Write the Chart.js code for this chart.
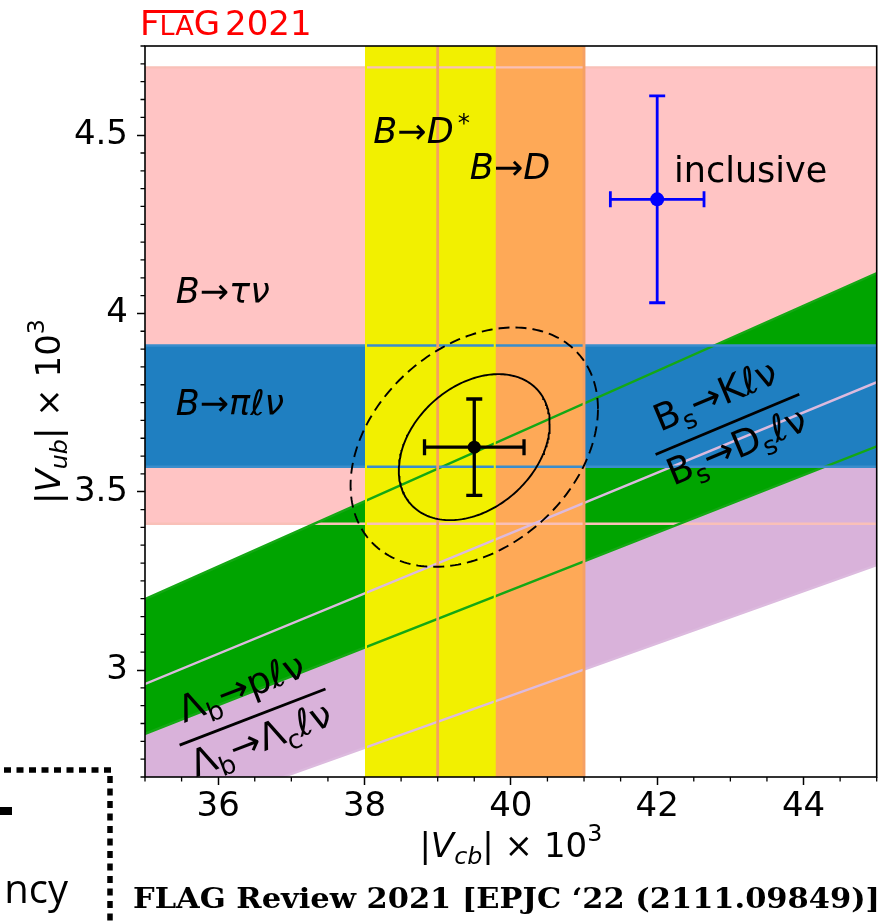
<!DOCTYPE html>
<html>
<head>
<meta charset="utf-8">
<script src="https://cdn.jsdelivr.net/npm/chart.js@4.4.1/dist/chart.umd.min.js"></script>
<style>
  html, body { margin: 0; padding: 0; background: #fff; }
  #wrap { width: 888px; height: 921px; position: relative; }
</style>
</head>
<body>
<div id="wrap"><canvas id="c" width="888" height="921"></canvas></div>
<script>
// |V_cb| x 10^3 from exclusive decays (vertical bands): centre and half-width
const vcbLabels = ['B→D*', 'B→D'];
const vcbCentre = [38.90, 40.00];
const vcbHalfWidth = [0.88, 1.00];

// |V_ub| x 10^3 (horizontal bands)
const vubLabels = ['B→πℓν', 'B→τν'];
const vubCentre = [3.74, 4.05];
const vubHalfWidth = [0.17, 0.64];

// |V_ub / V_cb| from ratios of decay rates (bands through the origin)
const ratioLabels = ['Bs→Kℓν / Bs→Dsℓν', 'Λb→pℓν / Λb→Λcℓν'];
const ratioCentre = [0.0860, 0.0789];
const ratioHalfWidth = [0.0054, 0.0057];

// combined fit and inclusive determination, with 1-sigma errors
const pointLabels = ['fit', 'inclusive'];
const pointVcb = [39.50, 42.00];
const pointVcbErr = [0.68, 0.64];
const pointVub = [3.625, 4.32];
const pointVubErr = [0.135, 0.29];
const fitCorrelation = 0.32;
const fitContourChi2 = [2.30, 6.18];   // 68% and 95% contours, two parameters

const xTickValues = [36, 38, 40, 42, 44];
const xTickLabels = ['36', '38', '40', '42', '44'];
const yTickValues = [3, 3.5, 4, 4.5];
const yTickLabels = ['3', '3.5', '4', '4.5'];

// ---------------------------------------------------------------- styling
const X_RANGE = [35, 45];
const Y_RANGE = [2.7, 4.75];
const X_OUT = [33, 47];      // bands run past the frame and are clipped
const Y_OUT = [1.5, 6.0];

const vcbStyle = [
  { fill: '#f2f000', line: '#f2f000', width: 2.0 },
  { fill: '#fea957', line: '#f5a064', width: 2.8 }
];
const vubStyle = [
  { fill: '#1f7fc1', line: '#3a8dcc', width: 2.4 },
  { fill: '#ffc4c4', line: '#f9c0b8', width: 2.4 }
];
const ratioStyle = [
  { fill: '#00a400', line: '#14a814', width: 2.4 },
  { fill: '#d9b2da', line: '#dcbade', width: 2.4 }
];
const pointColour = ['#000000', '#0000ff'];

// ---------------------------------------------------------------- geometry
function verticalBand(i) {
  const lo = vcbCentre[i] - vcbHalfWidth[i], hi = vcbCentre[i] + vcbHalfWidth[i];
  return [{x: lo, y: Y_OUT[0]}, {x: lo, y: Y_OUT[1]}, {x: hi, y: Y_OUT[1]}, {x: hi, y: Y_OUT[0]}];
}
function horizontalBand(i) {
  const lo = vubCentre[i] - vubHalfWidth[i], hi = vubCentre[i] + vubHalfWidth[i];
  return [{x: X_OUT[0], y: hi}, {x: X_OUT[1], y: hi}, {x: X_OUT[1], y: lo}, {x: X_OUT[0], y: lo}];
}
function ratioBand(i) {
  const lo = ratioCentre[i] - ratioHalfWidth[i], hi = ratioCentre[i] + ratioHalfWidth[i];
  return [{x: X_OUT[0], y: hi * X_OUT[0]}, {x: X_OUT[1], y: hi * X_OUT[1]},
          {x: X_OUT[1], y: lo * X_OUT[1]}, {x: X_OUT[0], y: lo * X_OUT[0]}];
}
// contour of the correlated Gaussian for the fit point
function fitContour(chi2) {
  const sx = Math.sqrt(chi2) * pointVcbErr[0], sy = Math.sqrt(chi2) * pointVubErr[0];
  const rho = fitCorrelation, pts = [];
  for (let k = 0; k <= 240; k++) {
    const t = 2 * Math.PI * k / 240;
    pts.push({ x: pointVcb[0] + sx * Math.cos(t),
               y: pointVub[0] + sy * (rho * Math.cos(t) + Math.sqrt(1 - rho * rho) * Math.sin(t)) });
  }
  return pts;
}

function bandDataset(label, data, st) {
  return { label, data, fill: 'shape', backgroundColor: st.fill, borderColor: st.line,
           borderWidth: st.width, pointRadius: 0, clip: 0 };
}

const datasets = [];
// markers
pointLabels.forEach((name, i) => datasets.push({
  label: name, data: [{x: pointVcb[i], y: pointVub[i]}], showLine: false,
  pointRadius: i === 0 ? 6.5 : 7, pointBackgroundColor: pointColour[i], pointBorderWidth: 0, fill: false
}));
// error bars with caps
pointLabels.forEach((name, i) => {
  const w = i === 0 ? 3.3 : 2.8;
  datasets.push({
    label: name + ' vub err', fill: false, borderColor: pointColour[i], borderWidth: w,
    data: [{x: pointVcb[i], y: pointVub[i] - pointVubErr[i]}, {x: pointVcb[i], y: pointVub[i] + pointVubErr[i]}],
    pointStyle: 'line', pointRadius: 8, pointBorderWidth: w, pointBorderColor: pointColour[i], pointRotation: 0
  });
  datasets.push({
    label: name + ' vcb err', fill: false, borderColor: pointColour[i], borderWidth: w,
    data: [{x: pointVcb[i] - pointVcbErr[i], y: pointVub[i]}, {x: pointVcb[i] + pointVcbErr[i], y: pointVub[i]}],
    pointStyle: 'line', pointRadius: 8, pointBorderWidth: w, pointBorderColor: pointColour[i], pointRotation: 90
  });
});
// fit contours
datasets.push({ label: '68%', data: fitContour(fitContourChi2[0]), fill: false,
                borderColor: '#000', borderWidth: 1.9, pointRadius: 0 });
datasets.push({ label: '95%', data: fitContour(fitContourChi2[1]), fill: false,
                borderColor: '#000', borderWidth: 1.9, borderDash: [11, 6], pointRadius: 0 });
// bands, topmost first
datasets.push(bandDataset(vcbLabels[0], verticalBand(0), vcbStyle[0]));
datasets.push(bandDataset(vcbLabels[1], verticalBand(1), vcbStyle[1]));
datasets.push(bandDataset(vubLabels[0], horizontalBand(0), vubStyle[0]));
datasets.push(bandDataset(ratioLabels[0], ratioBand(0), ratioStyle[0]));
datasets.push(bandDataset(ratioLabels[1], ratioBand(1), ratioStyle[1]));
datasets.push(bandDataset(vubLabels[1], horizontalBand(1), vubStyle[1]));

// ---------------------------------------------------------------- text
const MATH_FAMILY = '"DejaVu Sans"';
function partFont(p, size) {
  const s = (p.sub || p.sup) ? size * 0.7 : size;
  return (p.it ? 'italic ' : '') + s.toFixed(2) + 'px ' + MATH_FAMILY;
}
function richWidth(ctx, parts, size) {
  let w = 0;
  for (const p of parts) {
    ctx.font = partFont(p, size);
    w += (p.pre || 0) * size + ctx.measureText(p.t).width;
  }
  return w;
}
function drawRich(ctx, parts, x, y, size, align) {
  const w = richWidth(ctx, parts, size);
  let cx = align === 'center' ? x - w / 2 : (align === 'right' ? x - w : x);
  ctx.textAlign = 'left';
  ctx.textBaseline = 'alphabetic';
  for (const p of parts) {
    ctx.font = partFont(p, size);
    cx += (p.pre || 0) * size;
    let dy = 0;
    if (p.sub) dy = (p.shift != null ? p.shift : 0.24) * size;
    if (p.sup) dy = -(p.shift != null ? p.shift : 0.45) * size;
    ctx.fillText(p.t, cx, y + dy);
    cx += ctx.measureText(p.t).width;
  }
  return w;
}

const bandText = [
  { parts: [{t: 'B', it: 1}, {t: '→'}, {t: 'D', it: 1}, {t: '*', sup: 1, shift: 0.34, pre: 0.12}], x: 38.12, y: 4.477 },
  { parts: [{t: 'B', it: 1}, {t: '→'}, {t: 'D', it: 1}], x: 39.44, y: 4.376 },
  { parts: [{t: 'inclusive'}], x: 42.23, y: 4.369 },
  { parts: [{t: 'B', it: 1}, {t: '→'}, {t: 'τν', it: 1}], x: 35.42, y: 4.030 },
  { parts: [{t: 'B', it: 1}, {t: '→'}, {t: 'πℓν', it: 1}], x: 35.42, y: 3.715 }
];
const fractionText = [
  { band: 0, x: 42.96, y: 3.689,
    num: [{t: 'B'}, {t: 's', sub: 1}, {t: '→'}, {t: 'Kℓν'}],
    den: [{t: 'B'}, {t: 's', sub: 1}, {t: '→'}, {t: 'D'}, {t: 's', sub: 1}, {t: 'ℓν'}] },
  { band: 1, x: 36.47, y: 2.868,
    num: [{t: 'Λ'}, {t: 'b', sub: 1}, {t: '→'}, {t: 'pℓν'}],
    den: [{t: 'Λ'}, {t: 'b', sub: 1}, {t: '→'}, {t: 'Λ'}, {t: 'c', sub: 1}, {t: 'ℓν'}] }
];

const decor = {
  id: 'decor',
  afterDatasetsDraw(chart) {
    const ctx = chart.ctx, xs = chart.scales.x, ys = chart.scales.y, a = chart.chartArea;
    ctx.save();
    ctx.fillStyle = '#000';
    // band labels
    for (const b of bandText) {
      drawRich(ctx, b.parts, xs.getPixelForValue(b.x), ys.getPixelForValue(b.y), 35, 'left');
    }
    // rotated ratio labels, aligned with their band
    for (const f of fractionText) {
      const r = ratioCentre[f.band];
      const ang = Math.atan2(ys.getPixelForValue(r * X_RANGE[1]) - ys.getPixelForValue(r * X_RANGE[0]),
                             xs.getPixelForValue(X_RANGE[1]) - xs.getPixelForValue(X_RANGE[0]));
      const size = 37;
      ctx.save();
      ctx.translate(xs.getPixelForValue(f.x), ys.getPixelForValue(f.y));
      ctx.rotate(ang);
      const wn = richWidth(ctx, f.num, size), wd = richWidth(ctx, f.den, size);
      const bar = Math.max(wn, wd) + 8;
      ctx.strokeStyle = '#000';
      ctx.lineWidth = 2.8;
      ctx.beginPath();
      ctx.moveTo(-bar / 2, 0);
      ctx.lineTo(bar / 2, 0);
      ctx.stroke();
      drawRich(ctx, f.num, 0, -19, size, 'center');
      drawRich(ctx, f.den, 0, 36, size, 'center');
      ctx.restore();
    }
    // minor ticks
    ctx.strokeStyle = '#000';
    ctx.lineWidth = 1.3;
    ctx.beginPath();
    for (let k = 0; k <= 20; k++) {
      const v = X_RANGE[0] + k * 0.5;
      if (k % 4 === 2) continue;
      const px = xs.getPixelForValue(v);
      ctx.moveTo(px, a.bottom);
      ctx.lineTo(px, a.bottom + 4.5);
    }
    for (let k = 0; k <= 41; k++) {
      const v = Y_RANGE[0] + k * 0.05;
      if (k % 10 === 6) continue;
      const py = ys.getPixelForValue(v);
      ctx.moveTo(a.left, py);
      ctx.lineTo(a.left - 4.5, py);
    }
    ctx.stroke();
    // frame
    ctx.lineWidth = 1.6;
    ctx.strokeRect(a.left, a.top, a.right - a.left, a.bottom - a.top);
    ctx.restore();
  },
  afterDraw(chart) {
    const ctx = chart.ctx, a = chart.chartArea;
    ctx.save();
    ctx.fillStyle = '#000';
    // axis titles
    const xTitle = [{t: '|'}, {t: 'V', it: 1}, {t: 'cb', it: 1, sub: 1, shift: 0.2}, {t: '| × 10'}, {t: '3', sup: 1, shift: 0.48}];
    drawRich(ctx, xTitle, (a.left + a.right) / 2, 857, 34, 'center');
    const yTitle = [{t: '|'}, {t: 'V', it: 1}, {t: 'ub', it: 1, sub: 1, shift: 0.2}, {t: '| × 10'}, {t: '3', sup: 1, shift: 0.48}];
    ctx.save();
    ctx.translate(60, (a.top + a.bottom) / 2);
    ctx.rotate(-Math.PI / 2);
    drawRich(ctx, yTitle, 0, 0, 34, 'center');
    ctx.restore();

    // FLAG 2021 mark
    ctx.fillStyle = '#ff0000';
    ctx.textAlign = 'left';
    ctx.textBaseline = 'alphabetic';
    let lx = 140;
    ctx.font = '34px "DejaVu Sans"';
    ctx.fillText('F', lx, 35);
    lx += ctx.measureText('F').width;
    ctx.font = '27px "DejaVu Sans"';
    ctx.fillText('LA', lx, 35);
    lx += ctx.measureText('LA').width;
    ctx.fillRect(145, 10, lx - 145, 3);
    ctx.font = '34px "DejaVu Sans"';
    ctx.fillText('G', lx, 35);
    ctx.fillText('2021', 225, 35);

    // reference line
    ctx.fillStyle = '#000';
    ctx.font = 'bold 27px "DejaVu Serif"';
    const credit = 'FLAG Review 2021 [EPJC ‘22 (2111.09849)]';
    const cw = ctx.measureText(credit).width;
    ctx.save();
    ctx.translate(133, 908);
    ctx.scale(747 / cw, 1);
    ctx.fillText(credit, 0, 0);
    ctx.restore();

    // neighbouring slide content
    ctx.font = '40px "Open Sans"';
    ctx.textAlign = 'right';
    ctx.fillText('ncy', 68, 903);
    ctx.fillRect(0, 807, 12, 8);
    ctx.strokeStyle = '#000';
    ctx.lineWidth = 5.5;
    ctx.setLineDash([7, 5.5]);
    ctx.beginPath();
    ctx.moveTo(4, 770);
    ctx.lineTo(113, 770);
    ctx.moveTo(110, 776);
    ctx.lineTo(110, 921);
    ctx.stroke();
    ctx.restore();
  }
};

const tickFont = { family: 'DejaVu Sans', size: 34 };
new Chart(document.getElementById('c'), {
  type: 'line',
  data: { datasets },
  options: {
    responsive: false,
    animation: false,
    devicePixelRatio: 1,
    events: [],
    layout: { padding: { left: 0, top: 46, right: 11, bottom: 84 } },
    elements: { line: { tension: 0 }, point: { radius: 0, hoverRadius: 0 } },
    plugins: {
      legend: { display: false },
      tooltip: { enabled: false },
      filler: { drawTime: 'beforeDatasetsDraw', propagate: false }
    },
    scales: {
      x: {
        type: 'linear', position: 'bottom', min: X_RANGE[0], max: X_RANGE[1],
        afterBuildTicks: (axis) => { axis.ticks = xTickValues.map(v => ({ value: v })); },
        afterFit: (axis) => { axis.height = 60; },
        grid: { drawOnChartArea: false, drawTicks: true, tickLength: 8, tickWidth: 1.5, tickColor: '#000', color: '#000' },
        border: { display: false },
        ticks: { autoSkip: false, maxRotation: 0, padding: 2, color: '#000', font: tickFont,
                 callback: (v) => { const i = xTickValues.indexOf(v); return i >= 0 ? xTickLabels[i] : ''; } }
      },
      y: {
        type: 'linear', position: 'left', min: Y_RANGE[0], max: Y_RANGE[1],
        afterBuildTicks: (axis) => { axis.ticks = yTickValues.map(v => ({ value: v })); },
        afterFit: (axis) => { axis.width = 145; },
        grid: { drawOnChartArea: false, drawTicks: true, tickLength: 8, tickWidth: 1.5, tickColor: '#000', color: '#000' },
        border: { display: false },
        ticks: { autoSkip: false, padding: 9, color: '#000', font: tickFont,
                 callback: (v) => { const i = yTickValues.indexOf(v); return i >= 0 ? yTickLabels[i] : ''; } }
      }
    }
  },
  plugins: [decor]
});
</script>
</body>
</html>
